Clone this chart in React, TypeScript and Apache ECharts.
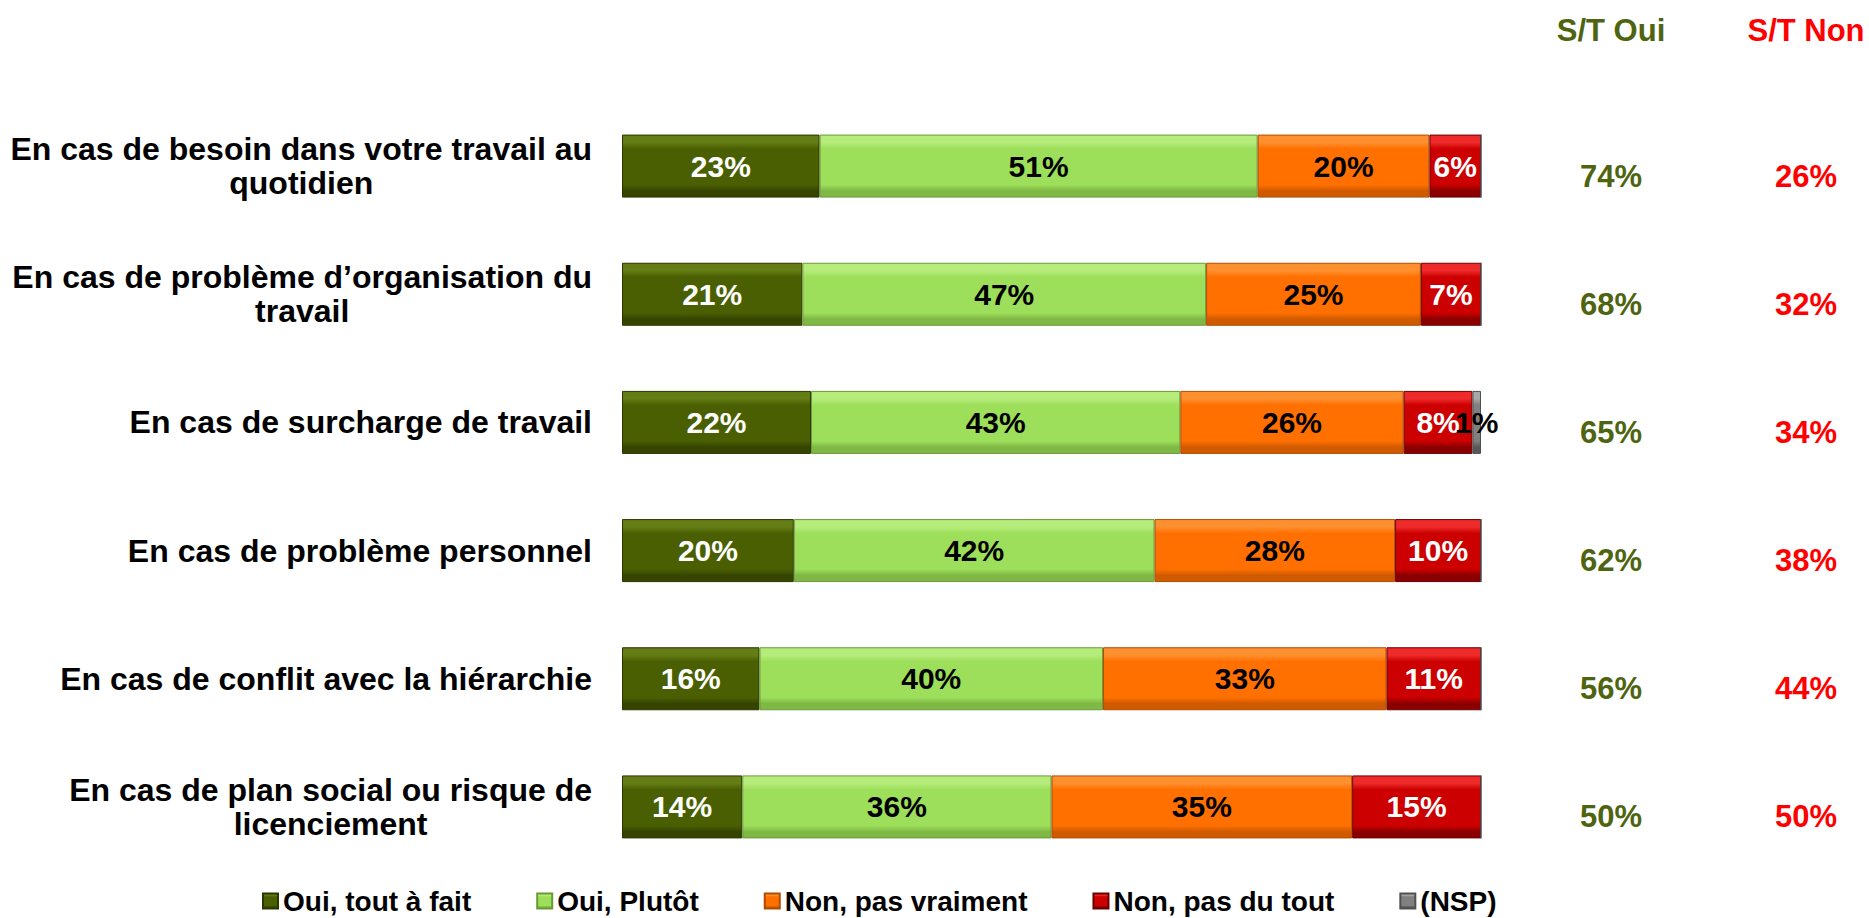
import React, { useEffect, useRef } from "react";
import * as echarts from "echarts";

const categories = [
  "En cas de besoin dans votre travail au\nquotidien",
  "En cas de problème d’organisation du\ntravail",
  "En cas de surcharge de travail",
  "En cas de problème personnel",
  "En cas de conflit avec la hiérarchie",
  "En cas de plan social ou risque de\nlicenciement",
];

const seriesNames = ["Oui, tout à fait", "Oui, Plutôt", "Non, pas vraiment", "Non, pas du tout", "(NSP)"];
const ouiToutAFait = [23, 21, 22, 20, 16, 14];
const ouiPlutot = [51, 47, 43, 42, 40, 36];
const nonPasVraiment = [20, 25, 26, 28, 33, 35];
const nonPasDuTout = [6, 7, 8, 10, 11, 15];
const nsp = [0, 0, 1, 0, 0, 0];
const stOui = [74, 68, 65, 62, 56, 50];
const stNon = [26, 32, 34, 38, 44, 50];

const FONT = '"Liberation Sans", Arial, sans-serif';

function bevel(top: string, base: string, bottom: string) {
  return {
    type: "linear",
    x: 0,
    y: 0,
    x2: 0,
    y2: 1,
    colorStops: [
      { offset: 0, color: top },
      { offset: 0.12, color: top },
      { offset: 0.22, color: base },
      { offset: 0.8, color: base },
      { offset: 0.9, color: bottom },
      { offset: 1, color: bottom },
    ],
  };
}

const styles = [
  { fill: bevel("#647d15", "#4a5f02", "#354500"), border: "#2a3600", text: "#ffffff" },
  { fill: bevel("#b6ec7c", "#9ddf5a", "#7fb845"), border: "#6a9a38", text: "#000000" },
  { fill: bevel("#ff9030", "#ff7000", "#d05a00"), border: "#b04c00", text: "#000000" },
  { fill: bevel("#ee2a2a", "#cc0000", "#8a0000"), border: "#6a0000", text: "#ffffff" },
  { fill: bevel("#a8a8a8", "#808080", "#585858"), border: "#505050", text: "#000000" },
];

const seriesData = [ouiToutAFait, ouiPlutot, nonPasVraiment, nonPasDuTout, nsp];

export default function App() {
  const ref = useRef<HTMLDivElement>(null);
  useEffect(() => {
    if (!ref.current) return;
    const chart = echarts.init(ref.current, null, { renderer: "svg" });
    const sideLabel = (margin: number, color: string) => ({
      margin,
      align: "center",
      verticalAlign: "top",
      lineHeight: 20,
      color,
      fontSize: 31,
      fontWeight: "bold",
      fontFamily: FONT,
    });
    const option: any = {
      animation: false,
      grid: { left: 622, right: 388, top: 102, bottom: 47 },
      xAxis: { type: "value", min: 0, max: 100, show: false },
      yAxis: [
        {
          type: "category",
          data: categories,
          inverse: true,
          axisLine: { show: false },
          axisTick: { show: false },
          axisLabel: {
            margin: 30,
            formatter: (v: string) => v.split("\n").map((l) => `{c|${l}}`).join("\n"),
            rich: {
              c: {
                align: "center",
                fontSize: 32,
                fontWeight: "bold",
                fontFamily: FONT,
                color: "#000",
                lineHeight: 34,
              },
            },
          },
        },
        {
          type: "category",
          data: stOui.map((v) => v + "%"),
          inverse: true,
          position: "right",
          axisLine: { show: false },
          axisTick: { show: false },
          axisLabel: sideLabel(130, "#4E6410"),
        },
        {
          type: "category",
          data: stNon.map((v) => v + "%"),
          inverse: true,
          position: "right",
          axisLine: { show: false },
          axisTick: { show: false },
          axisLabel: sideLabel(325, "#FF0000"),
        },
      ],
      legend: {
        data: seriesNames,
        left: 257,
        top: 882,
        icon: "rect",
        itemWidth: 15,
        itemHeight: 15,
        itemGap: 65,
        textStyle: { fontSize: 28, fontWeight: "bold", fontFamily: FONT, color: "#000" },
      },
      graphic: [
        {
          type: "text",
          x: 1611,
          y: 30,
          style: {
            text: "S/T Oui",
            fill: "#4E6410",
            fontSize: 31,
            fontWeight: "bold",
            fontFamily: FONT,
            align: "center",
            verticalAlign: "middle",
          },
        },
        {
          type: "text",
          x: 1806,
          y: 30,
          style: {
            text: "S/T Non",
            fill: "#FF0000",
            fontSize: 31,
            fontWeight: "bold",
            fontFamily: FONT,
            align: "center",
            verticalAlign: "middle",
          },
        },
      ],
      series: seriesNames.map((name, i) => ({
        name,
        type: "bar",
        stack: "total",
        barWidth: 63,
        data: seriesData[i],
        itemStyle: { color: styles[i].fill, borderColor: styles[i].border, borderWidth: 1 },
        label: {
          show: true,
          position: "inside",
          color: styles[i].text,
          fontSize: 30,
          fontWeight: "bold",
          fontFamily: FONT,
          formatter: (p: any) => (p.value > 0 ? p.value + "%" : ""),
        },
      })),
    };
    chart.setOption(option);
    return () => chart.dispose();
  }, []);
  return (
    <div
      ref={ref}
      style={{ position: "absolute", left: 0, top: 0, width: "1869px", height: "918px", background: "#fff" }}
    />
  );
}
